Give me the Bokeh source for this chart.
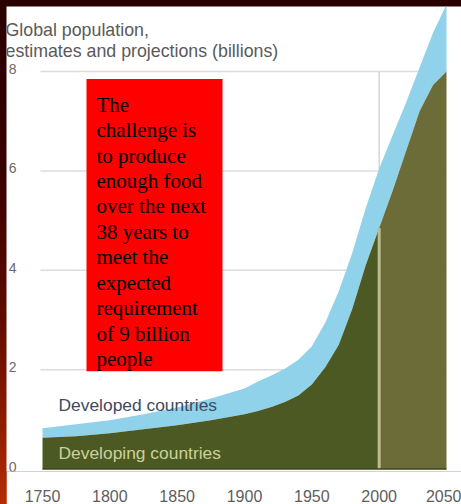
from bokeh.plotting import figure
from bokeh.models import Label, BoxAnnotation, FixedTicker, Range1d, ColumnDataSource
from bokeh.core.properties import value
from bokeh.layouts import column
from bokeh.embed import file_html
from bokeh.resources import INLINE

# ---- data (billions) ----
years = [1750, 1775, 1800, 1825, 1850, 1875, 1900, 1910, 1920, 1930, 1940, 1950,
         1960, 1970, 1980, 1990, 2000, 2010, 2020, 2030, 2040, 2050]
developing = [0.63, 0.66, 0.72, 0.80, 0.88, 0.98, 1.10, 1.17, 1.25, 1.35, 1.48, 1.70,
              2.05, 2.50, 3.22, 4.10, 4.85, 5.60, 6.40, 7.20, 7.73, 8.00]
total_pop = [0.82, 0.90, 0.98, 1.10, 1.24, 1.42, 1.62, 1.76, 1.88, 2.02, 2.20, 2.47,
             2.95, 3.58, 4.35, 5.25, 6.05, 6.72, 7.38, 8.08, 8.78, 9.35]
split_year = 2000
x_ticks = [1750, 1800, 1850, 1900, 1950, 2000, 2050]
y_ticks = [0, 2, 4, 6, 8]
y_tick_labels = ["0", "2", "4", "6", "8"]
title_lines = ["Global population,", "estimates and projections (billions)"]
series_labels = ["Developed countries", "Developing countries"]
box_lines = ["The", "challenge is", "to produce", "enough food", "over the next",
             "38 years to", "meet the", "expected", "requirement", "of 9 billion",
             "people"]

# ---- geometry helpers (page px -> data) ----
PX_PER_YEAR = 404 / 300.0
PX_PER_UNIT = 50.0
X0_PX, Y0_PX = 42.0, 471.5
def dx(px):
    return 1750 + (px - X0_PX) / PX_PER_YEAR
def dy(py):
    return (Y0_PX - py) / PX_PER_UNIT

FONT = "Liberation Sans"

p = figure(width=455, height=498, output_backend="svg", toolbar_location=None,
           x_range=Range1d(dx(6), dx(461)), y_range=Range1d(dy(474), dy(6)),
           min_border_left=0, min_border_right=0, min_border_top=0,
           min_border_bottom=30, title=None)
p.margin = (6, 0, 0, 6)
p.outline_line_color = None
p.background_fill_color = "white"
p.border_fill_color = "white"

# x axis (below)
p.xaxis.ticker = FixedTicker(ticks=x_ticks)
p.xaxis.axis_line_color = None
p.xaxis.major_tick_line_color = None
p.xaxis.minor_tick_line_color = None
p.xaxis.major_label_text_font = FONT
p.xaxis.major_label_text_color = "#5e5e5e"
p.xaxis.major_label_text_font_size = "16px"
p.xaxis.major_label_standoff = 12
p.yaxis.visible = False
p.xgrid.visible = False
p.ygrid.visible = False

# horizontal grid lines across the data span
grid_vals = [t for t in y_ticks if t > 0]
p.segment(x0=[x_ticks[0] - 1.5] * len(grid_vals), y0=grid_vals,
          x1=[x_ticks[-1]] * len(grid_vals), y1=grid_vals,
          line_color="#dcdcdc", line_width=1.5)

# y tick labels
p.text(x=[dx(16)] * len(y_ticks), y=[t + 0.05 for t in y_ticks], text=y_tick_labels,
       text_font=value(FONT), text_font_size="14px", text_color="#6a6a6a",
       text_align="right", text_baseline="middle")

i_split = years.index(split_year)
pre = ColumnDataSource(dict(x=years[:i_split + 1], d=developing[:i_split + 1]))
post = ColumnDataSource(dict(x=years[i_split:], d=developing[i_split:]))
allsrc = ColumnDataSource(dict(x=years, d=developing, t=total_pop))

# vertical divider at split year (behind areas)
p.segment(x0=[split_year], y0=[0], x1=[split_year], y1=[y_ticks[-1]],
          line_color="#d6d6d6", line_width=1.5)

p.varea(x="x", y1="d", y2="t", source=allsrc, fill_color="#8fd2ea")
p.varea(x="x", y1=0, y2="d", source=pre, fill_color="#4d5922")
p.varea(x="x", y1=0, y2="d", source=post, fill_color="#6b6c37")
p.segment(x0=[split_year], y0=[0], x1=[split_year], y1=[developing[i_split]],
          line_color="#bcbc8e", line_width=3)
p.segment(x0=[years[0]], y0=[0], x1=[years[-1]], y1=[0],
          line_color="#3e4420", line_width=1.5)

# series labels
p.add_layout(Label(x=dx(58), y=dy(407), text=series_labels[0], text_font=FONT,
                   text_font_size="17.4px", text_color="#3f4a5e",
                   text_baseline="middle", text_align="left"))
p.add_layout(Label(x=dx(58), y=dy(455), text=series_labels[1], text_font=FONT,
                   text_font_size="17.4px", text_color="#c9d29b",
                   text_baseline="middle", text_align="left"))

# title
for i, line in enumerate(title_lines):
    p.add_layout(Label(x=dx(5), y=dy(29.5 + 21 * i), text=line, text_font=FONT,
                       text_font_size="17.8px", text_color="#5a5a5a",
                       text_baseline="alphabetic", text_align="left"))

# red callout
p.add_layout(BoxAnnotation(left=dx(86), right=dx(222), top=dy(79), bottom=dy(373),
                           fill_color="#ff0000", fill_alpha=1.0, line_color=None))
for i, line in enumerate(box_lines):
    p.add_layout(Label(x=dx(96), y=dy(105 + 25.57 * i), text=line,
                       text_font="Liberation Serif", text_font_size="21px",
                       text_color="black", text_baseline="alphabetic",
                       text_align="left"))

layout = column(p, width=461, height=504,
                styles={"background": "linear-gradient(to bottom, #2a0000 0%, #3a0000 35%, #5e0a00 62%, #8a1a00 82%, #b52d05 100%)"})

open("out.html", "w").write(file_html(layout, INLINE))
